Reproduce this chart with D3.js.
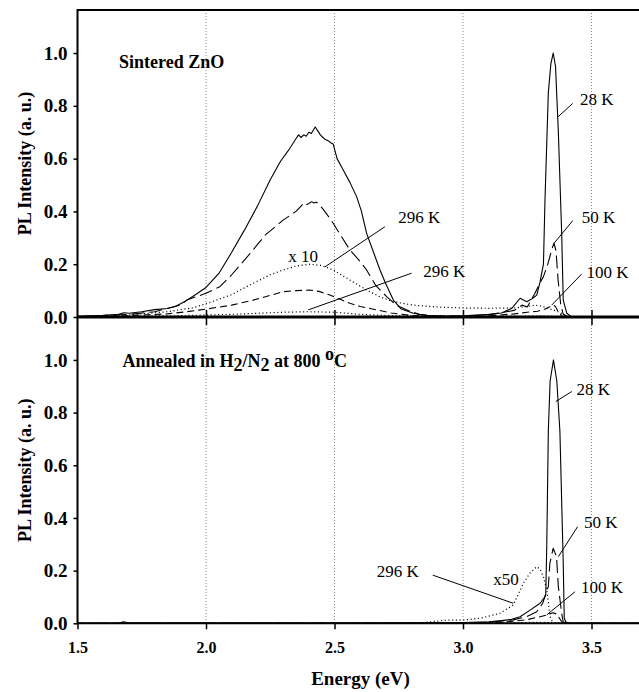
<!DOCTYPE html>
<html>
<head>
<meta charset="utf-8">
<script src="https://cdn.jsdelivr.net/npm/d3@7/dist/d3.min.js"></script>
<style>
  html, body { margin: 0; padding: 0; background: #fff; }
  svg { display: block; font-family: "Liberation Serif", "Times New Roman", serif; }
</style>
</head>
<body>
<svg id="chart" width="639" height="692"></svg>
<script>
// ---- PL spectra: [energy (eV), intensity (a.u.)] ----
// Sintered ZnO
const sint28K = [[1.50,0.003],[1.60,0.006],[1.66,0.010],[1.68,0.016],[1.70,0.014],[1.75,0.020],[1.80,0.028],[1.85,0.032],
  [1.88,0.040],[1.92,0.060],[1.96,0.085],[2.00,0.112],[2.05,0.165],[2.10,0.245],[2.15,0.330],[2.20,0.420],[2.25,0.520],
  [2.29,0.590],[2.32,0.630],[2.35,0.675],[2.36,0.690],[2.37,0.680],[2.38,0.690],[2.39,0.685],[2.40,0.700],[2.41,0.695],
  [2.42,0.712],[2.425,0.720],[2.435,0.705],[2.445,0.690],[2.455,0.680],[2.465,0.672],[2.475,0.668],[2.485,0.660],
  [2.495,0.655],[2.51,0.600],[2.534,0.557],[2.56,0.510],[2.586,0.456],[2.605,0.400],[2.625,0.317],[2.65,0.250],
  [2.677,0.178],[2.70,0.125],[2.729,0.064],[2.76,0.030],[2.807,0.014],[2.85,0.006],[2.90,0.004],[3.00,0.005],
  [3.10,0.010],[3.15,0.015],[3.19,0.033],[3.222,0.071],[3.248,0.058],[3.27,0.070],[3.287,0.083],[3.30,0.134],
  [3.313,0.200],[3.319,0.443],[3.332,0.850],[3.342,0.960],[3.351,1.000],[3.360,0.950],[3.371,0.700],[3.384,0.317],
  [3.390,0.064],[3.404,0.014],[3.42,0.002],[3.70,0.000]];
const sint50K = [[1.50,0.002],[1.70,0.010],[1.80,0.020],[1.90,0.045],[1.925,0.064],[2.00,0.090],[2.054,0.115],[2.10,0.160],
  [2.171,0.240],[2.23,0.310],[2.30,0.367],[2.35,0.400],[2.37,0.420],[2.38,0.432],[2.39,0.425],[2.40,0.430],[2.411,0.437],
  [2.42,0.432],[2.43,0.435],[2.45,0.415],[2.47,0.390],[2.495,0.355],[2.53,0.300],[2.56,0.254],[2.60,0.210],[2.625,0.178],
  [2.66,0.120],[2.703,0.077],[2.74,0.045],[2.78,0.027],[2.83,0.010],[2.90,0.004],[3.00,0.004],[3.10,0.008],[3.20,0.025],
  [3.23,0.045],[3.25,0.038],[3.28,0.090],[3.30,0.130],[3.313,0.153],[3.33,0.200],[3.345,0.254],[3.354,0.280],[3.362,0.250],
  [3.37,0.140],[3.38,0.050],[3.39,0.010],[3.41,0.000],[3.70,0.000]];
const sint100K = [[1.50,0.001],[1.70,0.005],[1.85,0.012],[1.925,0.020],[2.00,0.030],[2.10,0.045],[2.184,0.064],[2.25,0.082],
  [2.30,0.096],[2.35,0.100],[2.405,0.102],[2.44,0.097],[2.482,0.083],[2.52,0.068],[2.56,0.052],[2.60,0.040],[2.664,0.027],
  [2.72,0.015],[2.807,0.005],[2.90,0.002],[3.00,0.002],[3.10,0.004],[3.20,0.012],[3.25,0.018],[3.29,0.022],[3.32,0.030],
  [3.338,0.039],[3.35,0.045],[3.36,0.040],[3.37,0.020],[3.385,0.004],[3.40,0.000],[3.70,0.000]];
const sint296Kx10 = [[1.50,0.000],[1.70,0.008],[1.85,0.020],[1.95,0.035],[2.00,0.050],[2.10,0.085],[2.184,0.128],[2.25,0.160],
  [2.30,0.178],[2.35,0.193],[2.405,0.200],[2.45,0.195],[2.495,0.178],[2.56,0.140],[2.625,0.102],[2.68,0.075],[2.729,0.058],
  [2.807,0.045],[2.90,0.038],[3.00,0.034],[3.10,0.033],[3.20,0.034],[3.25,0.040],[3.28,0.045],[3.31,0.040],[3.34,0.030],
  [3.37,0.020],[3.39,0.010],[3.41,0.000],[3.70,0.000]];
const sint296K = [[1.50,0.000],[1.90,0.005],[2.10,0.010],[2.30,0.018],[2.40,0.020],[2.50,0.018],[2.60,0.010],[2.70,0.006],
  [2.80,0.004],[3.00,0.003],[3.20,0.003],[3.30,0.004],[3.40,0.000],[3.70,0.000]];

// Annealed in H2/N2 at 800 °C
const ann28K = [[1.50,0.000],[1.66,0.001],[1.68,0.006],[1.70,0.001],[2.00,0.001],[2.50,0.001],[2.90,0.002],[3.00,0.003],
  [3.10,0.006],[3.15,0.010],[3.19,0.015],[3.222,0.025],[3.261,0.050],[3.30,0.076],[3.318,0.100],[3.322,0.110],[3.326,0.300],
  [3.332,0.730],[3.339,0.920],[3.352,1.000],[3.365,0.920],[3.377,0.730],[3.390,0.230],[3.394,0.020],[3.40,0.005],
  [3.42,0.000],[3.70,0.000]];
const ann50K = [[1.50,0.000],[2.50,0.000],[3.00,0.001],[3.10,0.004],[3.196,0.013],[3.248,0.025],[3.287,0.044],[3.31,0.076],
  [3.332,0.139],[3.338,0.228],[3.351,0.285],[3.364,0.253],[3.371,0.139],[3.384,0.038],[3.39,0.005],[3.41,0.000],[3.70,0.000]];
const ann100K = [[1.50,0.000],[3.00,0.000],[3.10,0.002],[3.20,0.008],[3.25,0.014],[3.30,0.025],[3.33,0.032],[3.35,0.040],
  [3.365,0.035],[3.38,0.012],[3.39,0.000],[3.70,0.000]];
const ann296Kx50 = [[2.80,0.000],[2.85,0.003],[2.937,0.012],[3.00,0.012],[3.066,0.019],[3.144,0.038],[3.196,0.070],
  [3.235,0.152],[3.26,0.190],[3.287,0.215],[3.30,0.205],[3.313,0.177],[3.326,0.127],[3.339,0.025],[3.35,0.000],[3.70,0.000]];
const ann296K = [[1.50,0.000],[2.90,0.000],[3.20,0.002],[3.30,0.004],[3.35,0.002],[3.40,0.000],[3.70,0.000]];

// Axis ticks
const energyTicks = [1.5, 2.0, 2.5, 3.0, 3.5];
const gridTicks = [2.0, 2.5, 3.0, 3.5];
const intensityTicks = [0.0, 0.2, 0.4, 0.6, 0.8, 1.0];

// Annotations: label text, text anchor point [E, I], leader start and end [E, I]
const sintLabels = [
  { text: "28 K",  at: [3.455, 0.803], from: [3.427, 0.809], to: [3.368, 0.757] },
  { text: "50 K",  at: [3.462, 0.355], from: [3.427, 0.365], to: [3.354, 0.279] },
  { text: "100 K", at: [3.481, 0.148], from: [3.462, 0.163], to: [3.345, 0.045] },
  { text: "296 K", at: [2.748, 0.355], from: [2.696, 0.342], to: [2.463, 0.190] },
  { text: "296 K", at: [2.845, 0.152], from: [2.800, 0.166], to: [2.398, 0.027] },
  { text: "x 10",  at: [2.320, 0.209] }
];
const annLabels = [
  { text: "28 K",  at: [3.442, 0.867], from: [3.423, 0.880], to: [3.361, 0.842] },
  { text: "50 K",  at: [3.471, 0.361], from: [3.446, 0.367], to: [3.371, 0.253] },
  { text: "100 K", at: [3.459, 0.114], from: [3.436, 0.120], to: [3.326, 0.032] },
  { text: "296 K", at: [2.664, 0.176], from: [2.882, 0.183], to: [3.196, 0.076] },
  { text: "x50",   at: [3.118, 0.146] }
];

// ---- layout ----
const W = 639, H = 692;
const plotLeft = 77.5, plotTop = 10, plotMid = 317, plotBottom = 623.3;
const serif = "Liberation Serif, Times New Roman, serif";
const svg = d3.select("#chart");
svg.append("rect").attr("width", W).attr("height", H).attr("fill", "#fff");

const x = d3.scaleLinear().domain([1.5, 3.7]).range([plotLeft, plotLeft + 2.2 * 257]);
const yTop = d3.scaleLinear().domain([0, 1.163]).range([plotMid, plotTop]);
const yBot = d3.scaleLinear().domain([0, 1.163]).range([plotBottom, plotMid]);

const styles = {
  solid:  { dash: null },
  dash50: { dash: "13,5" },
  dash100:{ dash: "7,4" },
  dot:    { dash: "1.1,2.6" }
};

// dotted vertical grid through both panels
svg.append("g").selectAll("line").data(gridTicks).join("line")
  .attr("x1", d => x(d)).attr("x2", d => x(d))
  .attr("y1", plotTop).attr("y2", plotBottom)
  .attr("stroke", "#8a8a8a").attr("stroke-width", 1).attr("stroke-dasharray", "1,2");

function drawPanel(yScale, series, labels) {
  const g = svg.append("g");
  const line = d3.line().x(d => x(d[0])).y(d => yScale(d[1]));
  series.forEach(s => {
    g.append("path").datum(s.data)
      .attr("d", line)
      .attr("fill", "none")
      .attr("stroke", "#000")
      .attr("stroke-width", s.style === "dot" ? 1.2 : 1.1)
      .attr("stroke-linejoin", "round")
      .attr("stroke-dasharray", styles[s.style].dash);
  });
  labels.forEach(l => {
    if (l.from) {
      g.append("line")
        .attr("x1", x(l.from[0])).attr("y1", yScale(l.from[1]))
        .attr("x2", x(l.to[0])).attr("y2", yScale(l.to[1]))
        .attr("stroke", "#000").attr("stroke-width", 1);
    }
    g.append("text")
      .attr("x", x(l.at[0])).attr("y", yScale(l.at[1]))
      .attr("font-family", serif)
      .attr("font-size", 17).attr("fill", "#000")
      .text(l.text);
  });
  // intensity axis
  const ax = svg.append("g").attr("transform", `translate(${plotLeft},0)`)
    .call(d3.axisLeft(yScale).tickValues(intensityTicks).tickFormat(d3.format(".1f")).tickSize(4).tickPadding(6));
  ax.attr("font-family", serif);
  ax.select(".domain").remove();
  ax.selectAll(".tick line").attr("stroke", "#000").attr("stroke-width", 1.5);
  ax.selectAll(".tick text").attr("font-size", 19).attr("font-weight", "bold").attr("fill", "#000");
}

drawPanel(yTop, [
  { data: sint296K, style: "dot" },
  { data: sint296Kx10, style: "dot" },
  { data: sint100K, style: "dash100" },
  { data: sint50K, style: "dash50" },
  { data: sint28K, style: "solid" }
], sintLabels);

drawPanel(yBot, [
  { data: ann296K, style: "dot" },
  { data: ann296Kx50, style: "dot" },
  { data: ann100K, style: "dash100" },
  { data: ann50K, style: "dash50" },
  { data: ann28K, style: "solid" }
], annLabels);

// frame lines
svg.append("line").attr("x1", plotLeft).attr("x2", W).attr("y1", plotTop).attr("y2", plotTop)
  .attr("stroke", "#000").attr("stroke-width", 2);
svg.append("line").attr("x1", plotLeft).attr("x2", plotLeft).attr("y1", plotTop - 1).attr("y2", plotBottom + 1)
  .attr("stroke", "#000").attr("stroke-width", 2);

// upper panel energy axis (crossing ticks, no labels)
const axTop = svg.append("g").attr("transform", `translate(0,${plotMid})`)
  .call(d3.axisBottom(x).tickValues(gridTicks).tickSize(8).tickFormat(""));
axTop.select(".domain").remove();
axTop.selectAll(".tick line").attr("y1", -7).attr("stroke", "#000").attr("stroke-width", 1.5);
svg.append("line").attr("x1", plotLeft).attr("x2", W).attr("y1", plotMid).attr("y2", plotMid)
  .attr("stroke", "#000").attr("stroke-width", 3);

// lower panel energy axis
const axBot = svg.append("g").attr("transform", `translate(0,${plotBottom})`)
  .call(d3.axisBottom(x).tickValues(energyTicks).tickSize(6).tickPadding(12).tickFormat(d3.format(".1f")));
axBot.attr("font-family", serif);
axBot.select(".domain").remove();
axBot.selectAll(".tick line").attr("stroke", "#000").attr("stroke-width", 1.5);
axBot.selectAll(".tick text").attr("font-size", 16).attr("font-weight", "bold").attr("fill", "#000");
svg.append("line").attr("x1", plotLeft).attr("x2", W).attr("y1", plotBottom).attr("y2", plotBottom)
  .attr("stroke", "#000").attr("stroke-width", 2);

// panel titles
svg.append("text").attr("x", 119).attr("y", 68).attr("font-family", serif)
  .attr("font-size", 18).attr("font-weight", "bold").text("Sintered ZnO");
const t2 = svg.append("text").attr("x", 122.5).attr("y", 367).attr("font-family", serif)
  .attr("font-size", 18).attr("font-weight", "bold");
t2.append("tspan").text("Annealed in H");
t2.append("tspan").attr("dy", 4).text("2");
t2.append("tspan").attr("dy", -4).text("/N");
t2.append("tspan").attr("dy", 4).text("2");
t2.append("tspan").attr("dy", -4).text(" at 800  ");
t2.append("tspan").attr("dy", -7).text("o");
t2.append("tspan").attr("dy", 7).text("C");

// axis titles
[(plotTop + plotMid) / 2, (plotMid + plotBottom) / 2].forEach(cy => {
  svg.append("text")
    .attr("transform", `translate(31,${cy}) rotate(-90)`)
    .attr("text-anchor", "middle").attr("font-family", serif)
    .attr("font-size", 18).attr("font-weight", "bold")
    .text("PL Intensity (a. u.)");
});
svg.append("text").attr("x", 360.5).attr("y", 685)
  .attr("text-anchor", "middle").attr("font-family", serif).attr("font-size", 19).attr("font-weight", "bold")
  .text("Energy (eV)");
</script>
</body>
</html>
